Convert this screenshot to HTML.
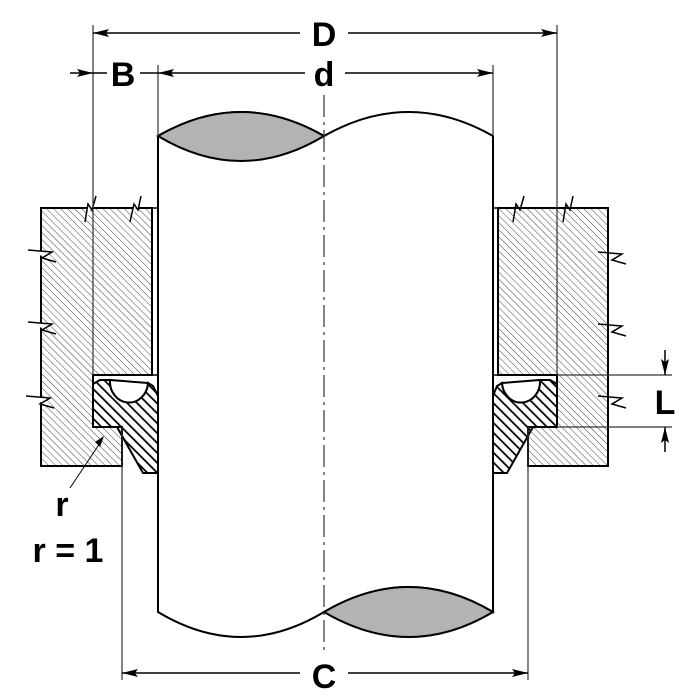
<!DOCTYPE html>
<html><head><meta charset="utf-8"><style>
html,body{margin:0;padding:0;background:#fff}
svg{display:block}
text{font-family:"Liberation Sans",sans-serif;font-weight:bold;fill:#000}
</style></head><body>
<svg width="700" height="700" viewBox="0 0 700 700" xmlns="http://www.w3.org/2000/svg">
<defs>
<pattern id="lh" patternUnits="userSpaceOnUse" width="5" height="5" patternTransform="rotate(-45)">
<line x1="0" y1="0" x2="0" y2="5" stroke="#444" stroke-width="1"/>
</pattern>
<pattern id="dh" patternUnits="userSpaceOnUse" width="7" height="7" patternTransform="rotate(-45)">
<line x1="0" y1="0" x2="0" y2="7" stroke="#000" stroke-width="3.5"/>
</pattern>
<marker id="ar" markerWidth="16" markerHeight="8" refX="16" refY="4" orient="auto" markerUnits="userSpaceOnUse">
<path d="M0,0 L16,4 L0,8 L3,4 Z" fill="#000"/>
</marker>
</defs>

<!-- LEFT housing -->
<path d="M41,208 L152,208 L152,375 L93,375 L93,427 L122,427 L122,466 L41,466 Z" fill="url(#lh)" stroke="#000" stroke-width="2"/>
<line x1="152" y1="208" x2="158" y2="208" stroke="#000" stroke-width="1.5"/>
<line x1="93" y1="375" x2="158" y2="375" stroke="#000" stroke-width="1.5"/>
<path d="M93,384 L100,380 L110,380 A19,21 0 0 0 148,383 L153,386 L158,396 L158,473 L143,473 L117,427 L93,427 Z" fill="url(#dh)" stroke="#000" stroke-width="2"/>
<path d="M110,380 A19,21 0 0 0 148,383 Z" fill="#fff" stroke="#000" stroke-width="2"/>
<!-- break marks -->
<g fill="#fff" stroke="#000" stroke-width="1.5">
<path d="M85,222 L88,204 L92,210 L96,196"/>
<path d="M130,222 L134,204 L138,210 L141,196"/>
<path d="M28,250 L52,252 L42,258 L56,262"/>
<path d="M28,322 L52,324 L42,330 L56,334"/>
<path d="M26,396 L50,398 L40,404 L54,408"/>
<path d="M513,222 L516,204 L520,210 L524,196"/>
<path d="M563,222 L566,204 L570,210 L573,196"/>
<path d="M598,252 L622,254 L612,260 L626,264"/>
<path d="M598,324 L622,326 L612,332 L626,336"/>
<path d="M598,396 L622,398 L612,404 L626,408"/>
</g>

<!-- RIGHT housing -->
<path d="M608,208 L498,208 L498,375 L557,375 L557,427 L528,427 L528,466 L608,466 Z" fill="url(#lh)" stroke="#000" stroke-width="2"/>
<line x1="493" y1="208" x2="498" y2="208" stroke="#000" stroke-width="1.5"/>
<line x1="493" y1="375" x2="557" y2="375" stroke="#000" stroke-width="1.5"/>
<path d="M557,384 L550,380 L540,380 A19,21 0 0 1 502,383 L497,386 L493,396 L493,473 L507,473 L533,427 L557,427 Z" fill="url(#dh)" stroke="#000" stroke-width="2"/>
<path d="M540,380 A19,21 0 0 1 502,383 Z" fill="#fff" stroke="#000" stroke-width="2"/>

<!-- Shaft -->
<path d="M158,136 L158,612 Q241,662 324,612 Q409,562 493,612 L493,136 Q409,88 324,136 Q241,88 158,136 Z" fill="#fff" stroke="#000" stroke-width="2"/>
<path d="M158,136 Q241,88 324,136 Q241,186 158,136 Z" fill="#b3b3b3" stroke="#000" stroke-width="2"/>
<path d="M324,612 Q409,562 493,612 Q409,662 324,612 Z" fill="#b3b3b3" stroke="#000" stroke-width="2"/>
<line x1="324" y1="95" x2="324" y2="650" stroke="#333" stroke-width="1.2" stroke-dasharray="22,5,3,5"/>

<g stroke="#333" stroke-width="1.2">
<line x1="93" y1="25" x2="93" y2="375"/>
<line x1="557" y1="25" x2="557" y2="375"/>
<line x1="158" y1="65" x2="158" y2="136"/>
<line x1="493" y1="65" x2="493" y2="136"/>
<line x1="122" y1="427" x2="122" y2="680"/>
<line x1="528" y1="427" x2="528" y2="680"/>
<line x1="557" y1="375" x2="672" y2="375"/>
<line x1="557" y1="427" x2="672" y2="427"/>
</g>
<g stroke="#000" stroke-width="1.5" fill="none">
<line x1="300" y1="33" x2="93" y2="33" marker-end="url(#ar)"/>
<line x1="348" y1="33" x2="557" y2="33" marker-end="url(#ar)"/>
<line x1="305" y1="73" x2="158" y2="73" marker-end="url(#ar)"/>
<line x1="345" y1="73" x2="493" y2="73" marker-end="url(#ar)"/>
<line x1="70" y1="73" x2="93" y2="73" marker-end="url(#ar)"/>
<line x1="93" y1="73" x2="107" y2="73"/>
<line x1="140" y1="73" x2="158" y2="73"/>
<line x1="300" y1="673" x2="122" y2="673" marker-end="url(#ar)"/>
<line x1="348" y1="673" x2="528" y2="673" marker-end="url(#ar)"/>
<line x1="665" y1="350" x2="665" y2="375" marker-end="url(#ar)"/>
<line x1="665" y1="452" x2="665" y2="427" marker-end="url(#ar)"/>
<line x1="70" y1="488" x2="102" y2="440" stroke-width="1"/>
</g>
<path d="M104,436 L95,442 L100,447 Z" fill="#000"/>

<text x="324" y="46" font-size="34" text-anchor="middle">D</text>
<text x="324" y="86" font-size="34" text-anchor="middle">d</text>
<text x="123" y="86" font-size="34" text-anchor="middle">B</text>
<text x="324" y="688" font-size="34" text-anchor="middle">C</text>
<text x="665" y="414" font-size="34" text-anchor="middle">L</text>
<text x="62" y="516" font-size="34" text-anchor="middle">r</text>
<text x="68" y="562" font-size="34" text-anchor="middle">r = 1</text>
</svg>
</body></html>
